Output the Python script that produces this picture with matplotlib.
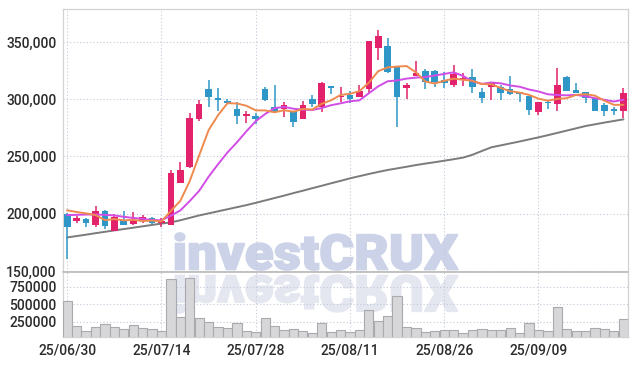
import matplotlib
matplotlib.use("Agg")
import matplotlib.pyplot as plt
import numpy as np
from matplotlib.textpath import TextPath
from matplotlib.font_manager import FontProperties
from matplotlib.patches import PathPatch
from matplotlib.transforms import Affine2D
from matplotlib.ticker import FuncFormatter

# daily candles, 25/06/30 .. 25/09/22
opens = [199700, 193500, 195300, 190000, 202300, 185000, 194700, 191000, 193500, 196500,
         192000, 190000, 227000, 240500, 283000, 308700, 301000, 298400, 291400, 285300,
         285300, 309000, 293000, 291700, 289700, 283000, 300200, 292900, 311500, 301900,
         303700, 302200, 308900, 345000, 346500, 328400, 309500, 320500, 324600, 324600,
         316500, 312400, 316800, 319100, 306000, 311000, 310400, 308700, 306600, 302800,
         289100, 297300, 295800, 319700, 308000, 306000, 301300, 294900, 291400, 290000]
highs = [200500, 198000, 196000, 207000, 203000, 200000, 202000, 201500, 199000, 197000,
         196000, 238000, 245500, 288000, 299000, 316800, 309500, 300000, 297800, 289700,
         287700, 310500, 312400, 297800, 290000, 298400, 303400, 315300, 311800, 311000,
         307400, 312400, 351100, 360500, 353200, 328400, 313900, 333700, 326100, 325500,
         324000, 329900, 323200, 326100, 309500, 315300, 312400, 320300, 306600, 302800,
         297800, 299300, 327000, 320000, 313900, 306000, 301300, 297000, 293500, 309500]
lows = [160300, 191800, 188000, 188000, 187000, 185000, 190000, 190000, 192000, 191000,
        188500, 190000, 227000, 239500, 281000, 293500, 290000, 296000, 278100, 278900,
        278100, 298500, 288000, 284200, 276000, 283000, 293400, 289100, 304300, 297800,
        297000, 302000, 305100, 334300, 322600, 276000, 300200, 320000, 308900, 311000,
        310000, 311000, 311500, 305700, 296400, 299300, 299300, 304000, 297800, 286200,
        286200, 291200, 289700, 307400, 305000, 296500, 290000, 285600, 286500, 283800]
closes = [188500, 196200, 192000, 202300, 189200, 197000, 190300, 194000, 197300, 191500,
          193500, 236000, 238000, 284000, 296000, 302300, 299500, 297000, 285600, 287100,
          282400, 299000, 289000, 294700, 280300, 294700, 296100, 314400, 310000, 303100,
          300200, 307400, 351100, 355500, 324000, 302200, 312400, 323200, 315300, 315300,
          314300, 322000, 318300, 310400, 300800, 313900, 305700, 304300, 304300, 290600,
          297800, 296400, 312400, 307400, 305100, 300800, 290000, 290000, 289700, 305100]
volumes = [545700, 188600, 117000, 174300, 217000, 174300, 145700, 202900, 160000, 145700,
           117000, 855700, 321400, 870000, 298600, 241400, 170000, 155700, 227100, 117000,
           98600, 298600, 188600, 131400, 141400, 117000, 84300, 235700, 107100, 131400,
           107100, 131400, 417100, 260000, 331400, 617100, 170000, 155700, 98600, 117000,
           131400, 131400, 84300, 131400, 145700, 131400, 131400, 155700, 84300, 235700,
           131400, 117000, 455700, 141400, 121400, 121400, 155700, 141400, 121400, 284300]

ma5 = [203000, 201500, 200300, 198800, 194400, 195300, 194200, 194600, 193600, 194000,
       193300, 202500, 211300, 228600, 251000, 273000, 286000, 296500, 296300, 294300,
       290300, 290200, 288600, 290400, 289100, 291500, 291000, 296000, 299100, 303700,
       304800, 307000, 314400, 324500, 327800, 328500, 329000, 323500, 315400, 313700,
       316100, 318000, 317000, 316100, 313200, 313100, 309800, 307000, 305800, 303800,
       300500, 298700, 300300, 300900, 303800, 304400, 303100, 298700, 295100, 295100]
ma10 = [198800, 199000, 199300, 199300, 199000, 198500, 197300, 196300, 195500, 194500,
        194300, 198300, 202900, 211100, 220000, 232300, 243200, 253500, 262300, 271900,
        280800, 287100, 292200, 293300, 291700, 290900, 290600, 292300, 294800, 296400,
        298200, 299000, 305200, 311300, 315700, 316400, 318000, 318900, 319400, 320700,
        322100, 323500, 320300, 315700, 313400, 314600, 313900, 312000, 310900, 308500,
        306800, 304300, 303700, 303400, 303800, 302500, 300900, 299500, 298000, 299500]
ma_long = [179300, 180500, 181700, 183000, 184200, 185400, 186600, 187800, 189000, 190200,
           191400, 192400, 194300, 196400, 198500, 200300, 202100, 203900, 205700, 207500,
           209500, 211600, 213700, 215800, 218000, 220100, 222300, 224400, 226600, 228700,
           230900, 232800, 234700, 236500, 238200, 239600, 241000, 242500, 243800, 245000,
           246300, 247600, 249000, 251500, 254800, 258000, 259700, 261400, 263100, 264900,
           266700, 268600, 270600, 272600, 274600, 276600, 278100, 279600, 281000, 282400]

date_ticks = [0, 10, 20, 30, 40, 50]
date_labels = ["25/06/30", "25/07/14", "25/07/28", "25/08/11", "25/08/26", "25/09/09"]
price_ticks = [150000, 200000, 250000, 300000, 350000]
vol_ticks = [250000, 500000, 750000]

UP = "#e2226a"
DOWN = "#2f96c8"
GRID = "#c4c9da"
TXT = "#2b2b2b"
label_font = ["Roboto", "DejaVu Sans"]

W, H = 636, 366
fig = plt.figure(figsize=(W / 100, H / 100), dpi=100, facecolor="white")
ax = fig.add_axes([63 / W, 94 / H, 565 / W, 263 / H], facecolor="none")
axv = fig.add_axes([63 / W, 28.7 / H, 565 / W, 65.3 / H], facecolor="none", sharex=ax)

o = np.array(opens)
c = np.array(closes)
x = np.arange(len(o))
up = c >= o
colors = np.where(up, UP, DOWN)

ax.vlines(x, lows, highs, colors=colors, linewidth=1.1, zorder=3)
body_lo = np.minimum(o, c)
body_h = np.maximum(np.abs(c - o), 1000)
ax.bar(x, body_h, bottom=body_lo, width=0.7, color=colors, linewidth=0, zorder=4)

ax.plot(x, ma_long, color="#7b7b7b", linewidth=1.4, zorder=2)
ax.plot(x, ma10, color="#d24ce6", linewidth=1.4, zorder=5)
ax.plot(x, ma5, color="#ef8a4f", linewidth=1.4, zorder=6)

axv.bar(x, volumes, width=0.98, color="#d7d7da", edgecolor="#a9a9ae", linewidth=0.8, zorder=3)

ax.set_xlim(-0.45, 59.5)
ax.set_ylim(149100, 378800)
axv.set_ylim(27000, 960000)

ax.set_yticks(price_ticks)
ax.yaxis.set_major_formatter(FuncFormatter(lambda v, p: f"{v:,.0f}"))
axv.set_yticks(vol_ticks)
axv.yaxis.set_major_formatter(FuncFormatter(lambda v, p: f"{v:.0f}"))
axv.set_xticks(date_ticks)
axv.set_xticklabels(date_labels)

for a in (ax, axv):
    a.grid(True, linestyle=(0, (1, 2)), color=GRID, linewidth=0.8, zorder=0)
    a.set_axisbelow(True)
    a.tick_params(length=0, pad=4.5, labelsize=10, labelcolor=TXT)
    for lbl in a.get_xticklabels() + a.get_yticklabels():
        lbl.set_family(label_font)
        lbl.set_fontweight("medium")
    for s in a.spines.values():
        s.set_color("#d2d2d2")
        s.set_linewidth(0.9)
ax.tick_params(labelbottom=False)
ax.spines["bottom"].set_color("#bdbdbd")
ax.spines["bottom"].set_linewidth(1.3)
axv.spines["top"].set_visible(False)

# watermark with mirrored reflection, placed in pixel coordinates
tp = TextPath((0, 0), "investCRUX", size=50, prop=FontProperties(family="Roboto", weight="black"))
ext = tp.get_extents()
x0, x1 = 175, 458
sx = (x1 - x0) / ext.width
main_t = Affine2D().translate(-ext.x0, -ext.y0).scale(sx, (270 - 233) / ext.height).translate(x0, H - 270)
refl_t = Affine2D().translate(-ext.x0, -ext.y0).scale(sx, -(313 - 275) / ext.height).translate(x0, H - 275)
fig.add_artist(PathPatch(tp, transform=main_t, facecolor="#ccd2e7", edgecolor="#ccd2e7",
                         linewidth=1.2, zorder=-1))
fig.add_artist(PathPatch(tp, transform=refl_t, facecolor="#e5e7f0", edgecolor="#e5e7f0",
                         linewidth=1.2, zorder=-1))

fig.savefig("out.png", dpi=100, facecolor="white")
